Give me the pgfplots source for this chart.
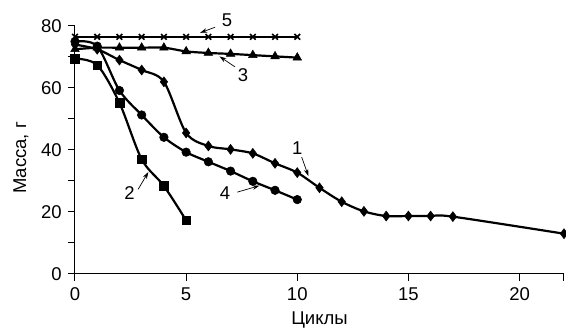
\documentclass[border=0pt]{standalone}
\usepackage{fontspec}
\setmainfont{Liberation Sans}
\usepackage{pgfplots}
\pgfplotsset{compat=1.18}
\usetikzlibrary{arrows.meta}
\begin{document}
\fontsize{18.5}{21}\selectfont
\begin{tikzpicture}
\begin{axis}[
  scale only axis, width=489pt, height=248pt,
  xmin=0, xmax=22, ymin=0, ymax=80,
  axis x line*=bottom, axis y line*=left,
  xtick={0,5,10,15,20}, extra x ticks={22}, extra x tick labels={},
  ytick={0,20,...,80}, minor ytick={10,30,50,70},
  tick align=outside, major tick length=7pt, minor tick length=7pt,
  tick style={black, line width=1pt},
  axis line style={black, line width=1pt},
  every tick label/.append style={font=\fontsize{18.5}{21}\selectfont},
  /pgf/number format/assume math mode=true,
  xlabel={Циклы}, ylabel={Масса, г},
  every axis x label/.style={at={(axis description cs:0.5,-0.1855)}, anchor=center, font=\fontsize{18.5}{21}\selectfont},
  every axis y label/.style={at={(axis description cs:-0.1104,0.468)}, rotate=90, anchor=center, font=\fontsize{18.5}{21}\selectfont},
  clip=false,
  every axis plot/.append style={black, line width=2.2pt},
]
% 1 diamonds
\addplot[smooth, mark=diamond*, mark size=5pt, mark options={solid, line width=0.5pt}] coordinates {
(0,74)(1,72.5)(2,69)(3,65.8)(4,62)(5,45.5)(6,41.3)(7,40.2)(8,38.9)(9,35.7)(10,32.7)(11,27.8)(12,23.3)(13,20.2)(14,18.7)(15,18.7)(16,18.7)(17,18.5)(22,13)};
% 2 squares
\addplot[smooth, mark=square*, mark size=4.3pt, mark options={line width=0.5pt}] coordinates {
(0,69.5)(1,67.4)(2,55.2)(3,37)(4,28.4)(5,17.3)};
% 3 triangles
\addplot[smooth, mark=triangle*, mark size=5pt, mark options={line width=0.5pt}] coordinates {
(0,72.5)(1,73)(2,73)(3,73)(4,73)(5,71.8)(6,71.3)(7,71)(8,70.6)(9,70.2)(10,69.8)};
% 4 circles
\addplot[smooth, mark=*, mark size=4.3pt, mark options={line width=0.5pt}] coordinates {
(0,75)(1,73.5)(2,59.2)(3,51.3)(4,44.1)(5,39.3)(6,36.2)(7,33.2)(8,29.9)(9,27)(10,24)};
% 5 crosses
\addplot[mark=x, mark size=4pt, mark options={line width=1.6pt}] coordinates {
(0,76.5)(1,76.5)(2,76.5)(3,76.5)(4,76.5)(5,76.5)(6,76.5)(7,76.5)(8,76.5)(9,76.5)(10,76.5)};
% annotations
\node[font=\fontsize{18.5}{21}\selectfont] at (axis cs:6.84,81.9) {5};
\draw[-{Stealth[length=7pt,width=4.5pt]}, line width=0.7pt] (axis cs:6.3,79.6) -- (axis cs:5.63,77.8);
\node[font=\fontsize{18.5}{21}\selectfont] at (axis cs:7.56,64.2) {3};
\draw[-{Stealth[length=7pt,width=4.5pt]}, line width=0.7pt] (axis cs:7.2,66.8) -- (axis cs:6.5,70.2);
\node[font=\fontsize{18.5}{21}\selectfont] at (axis cs:10.0,40.5) {1};
\draw[-{Stealth[length=7pt,width=4.5pt]}, line width=0.7pt] (axis cs:10.2,37.7) -- (axis cs:10.5,31.6);
\node[font=\fontsize{18.5}{21}\selectfont] at (axis cs:2.45,26.1) {2};
\draw[-{Stealth[length=7pt,width=4.5pt]}, line width=0.7pt] (axis cs:2.84,27.3) -- (axis cs:3.3,32.9);
\node[font=\fontsize{18.5}{21}\selectfont] at (axis cs:6.75,26.1) {4};
\draw[-{Stealth[length=7pt,width=4.5pt]}, line width=0.7pt] (axis cs:7.3,26.4) -- (axis cs:8.3,28.5);
\end{axis}
\pgfresetboundingbox
\path (-75pt,-55pt) rectangle (491pt,274pt);
\end{tikzpicture}
\end{document}
